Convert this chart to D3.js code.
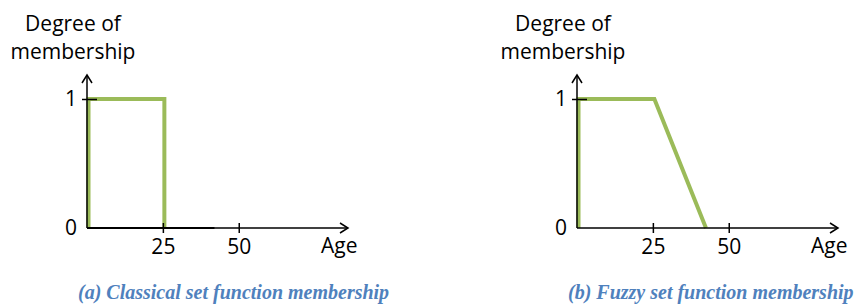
<!DOCTYPE html>
<html>
<head>
<meta charset="utf-8">
<script src="https://cdn.jsdelivr.net/npm/d3@7"></script>
<style>
  body { margin: 0; background: #fff; }
  .lbl { font-family: "Open Sans", sans-serif; font-size: 21px; fill: #000; }
  .cap { font-family: "Liberation Serif", serif; font-style: italic; font-weight: bold; font-size: 20px; fill: #4f81bd; }
</style>
</head>
<body>
<svg id="chart" width="858" height="305"></svg>
<script>
// membership functions (age, degree)
const classicalPts = [[0, 0], [0, 1], [25, 1], [25, 0]];
const fuzzyPts = [[0, 0], [0, 1], [25, 1], [42, 0]];
const xTicks = [25, 50];
const yTicks = [0, 1];
const captions = ["(a) Classical set function membership", "(b) Fuzzy set function membership"];

const svg = d3.select("#chart");
const green = "#9bbb59";

function panel(left, pts, caption, extraSeg) {
  const x = d3.scaleLinear().domain([0, 86]).range([left, left + 261]);
  const y = d3.scaleLinear().domain([0, 1]).range([228, 99]);
  const g = svg.append("g");

  const line = d3.line().x(d => x(d[0]) + 1.5).y(d => y(d[1]));
  g.append("path")
    .attr("d", line(pts))
    .attr("fill", "none")
    .attr("stroke", green)
    .attr("stroke-width", 4)
    .attr("stroke-linejoin", "miter");

  // axes
  g.append("line").attr("x1", x(0)).attr("x2", x(0)).attr("y1", y(0)).attr("y2", 75)
    .attr("stroke", "#000").attr("stroke-width", 1.5);
  g.append("line").attr("x1", x(0)).attr("x2", x(86)).attr("y1", y(0)).attr("y2", y(0))
    .attr("stroke", "#000").attr("stroke-width", 1.5);
  if (extraSeg) {
    g.append("line").attr("x1", x(0)).attr("x2", x(extraSeg)).attr("y1", y(0)).attr("y2", y(0))
      .attr("stroke", "#000").attr("stroke-width", 2.2);
  }
  // arrowheads
  g.append("path").attr("d", `M${x(0) - 5},83 L${x(0)},75 L${x(0) + 5},83`)
    .attr("fill", "none").attr("stroke", "#000").attr("stroke-width", 1.5);
  g.append("path").attr("d", `M${x(86) - 8},${y(0) - 5} L${x(86)},${y(0)} L${x(86) - 8},${y(0) + 5}`)
    .attr("fill", "none").attr("stroke", "#000").attr("stroke-width", 1.5);

  // x ticks
  const xa = g.append("g").attr("transform", `translate(0,${y(0)})`)
    .call(d3.axisBottom(x).tickValues(xTicks).tickFormat(d3.format("d")).tickSize(5).tickPadding(6));
  xa.select(".domain").remove();
  xa.selectAll(".tick line").attr("y1", -5).attr("stroke-width", 1.5);
  xa.selectAll(".tick text").attr("class", "lbl").attr("font-size", null).attr("font-family", null);

  // y ticks
  const ya = g.append("g").attr("transform", `translate(${x(0)},0)`)
    .call(d3.axisLeft(y).tickValues(yTicks).tickFormat(d3.format("d")).tickSize(5).tickPadding(5));
  ya.select(".domain").remove();
  ya.selectAll(".tick line").attr("x1", -5).attr("x2", 10).attr("stroke-width", 1.5)
    .attr("display", d => d === 0 ? "none" : null);
  ya.selectAll(".tick text").attr("class", "lbl").attr("font-size", null).attr("font-family", null);

  g.append("text").attr("class", "lbl").attr("x", left + 234).attr("y", 253).text("Age");
  g.append("text").attr("class", "lbl").attr("x", left - 14).attr("y", 31)
    .attr("text-anchor", "middle").text("Degree of");
  g.append("text").attr("class", "lbl").attr("x", left - 14).attr("y", 59)
    .attr("text-anchor", "middle").text("membership");
  g.append("text").attr("class", "cap").attr("x", left - 9).attr("y", 299)
    .text(caption);
}

panel(87, classicalPts, captions[0], 42);
panel(577, fuzzyPts, captions[1], null);
</script>
</body>
</html>
